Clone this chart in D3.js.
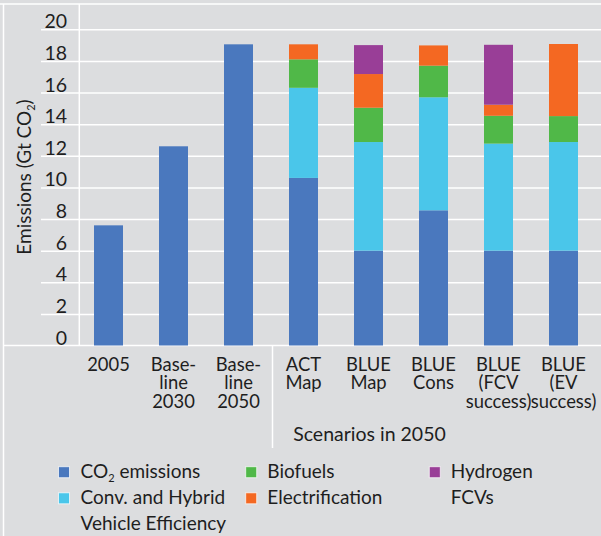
<!DOCTYPE html>
<html><head><meta charset="utf-8">
<script src="https://cdn.jsdelivr.net/npm/d3@7"></script>
<style>
html,body{margin:0;padding:0;background:#dcdddf;}
svg{display:block;}
text{font-family:Lato,"Liberation Sans",Arial,sans-serif;fill:#1e1e1e;}
</style></head>
<body><svg id="c" width="601" height="536"></svg>
<script>
// ---- data ----
const categories = ["2005","Baseline 2030","Baseline 2050","ACT Map","BLUE Map","BLUE Cons","BLUE (FCV success)","BLUE (EV success)"];
const categoryLines = [["2005"],["Base-","line","2030"],["Base-","line","2050"],["ACT","Map"],["BLUE","Map"],["BLUE","Cons"],["BLUE","(FCV","success)"],["BLUE","(EV","success)"]];
const co2Emissions   = [7.6, 12.6, 19.05, 10.6, 6.0, 8.55, 6.0, 6.0];
const convHybrid     = [0, 0, 0, 5.7, 6.87, 7.15, 6.77, 6.87];
const biofuels       = [0, 0, 0, 1.8, 2.17, 2.0, 1.76, 1.64];
const electrification= [0, 0, 0, 0.95, 2.13, 1.28, 0.7, 4.56];
const hydrogenFCVs   = [0, 0, 0, 0, 1.83, 0, 3.79, 0];
const yTicks = [0,2,4,6,8,10,12,14,16,18,20];
const seriesKeys = ["co2","conv","bio","elec","h2"];
const seriesColors = {co2:"#4a78be", conv:"#4ac6ea", bio:"#50b848", elec:"#f46822", h2:"#993e97"};

const rows = categories.map((c,i)=>({cat:c, co2:co2Emissions[i], conv:convHybrid[i], bio:biofuels[i], elec:electrification[i], h2:hydrogenFCVs[i]}));

const svg = d3.select("#c");
const FS = 19;
const white = "#ffffff";

const y = d3.scaleLinear().domain([0,20]).range([345.5, 29.3]);
const x = d3.scaleBand().domain(categories).range([76,596]).paddingInner(0.554).paddingOuter(0.277);

// frame lines
svg.append("line").attr("x1",0).attr("x2",601).attr("y1",4).attr("y2",4).attr("stroke",white).attr("stroke-width",1.5);
svg.append("line").attr("x1",3.5).attr("x2",3.5).attr("y1",4).attr("y2",536).attr("stroke",white).attr("stroke-width",1.5);

// gridlines via axis
const grid = svg.append("g").attr("transform","translate(41,0)")
  .call(d3.axisRight(y).tickValues(yTicks.filter(d=>d>0)).tickSize(560).tickFormat(""));
grid.select(".domain").remove();
grid.selectAll(".tick line").attr("stroke",white).attr("stroke-width",1.5);

// zero line
svg.append("line").attr("x1",3).attr("x2",601).attr("y1",y(0)).attr("y2",y(0)).attr("stroke",white).attr("stroke-width",1.5);
// y-axis vertical
svg.append("line").attr("x1",79.3).attr("x2",79.3).attr("y1",4).attr("y2",y(0)).attr("stroke",white).attr("stroke-width",1.5);
// separator
svg.append("line").attr("x1",272.5).attr("x2",272.5).attr("y1",y(0)).attr("y2",448).attr("stroke",white).attr("stroke-width",1.5);

// y labels
const yax = svg.append("g").attr("transform","translate(67,0)")
  .call(d3.axisLeft(y).tickValues(yTicks).tickSize(0).tickPadding(0));
yax.select(".domain").remove();
yax.selectAll(".tick text").attr("dy","-1.5").attr("x",0)
  .style("font-size","19.5px").style("font-family","Lato,\"Liberation Sans\",Arial,sans-serif").attr("fill","#1e1e1e");

// stacked bars
const stack = d3.stack().keys(seriesKeys)(rows);
svg.append("g").selectAll("g").data(stack).join("g").attr("fill",d=>seriesColors[d.key])
  .selectAll("rect").data(d=>d.filter(s=>s[1]-s[0]>0)).join("rect")
  .attr("x",d=>x(d.data.cat)).attr("width",x.bandwidth())
  .attr("y",d=>y(d[1])).attr("height",d=>y(d[0])-y(d[1]));

// x labels
const xl = svg.append("g");
categories.forEach((c,i)=>{
  const t = xl.append("text").attr("text-anchor","middle").attr("x",x(c)+x.bandwidth()/2).attr("y",370.7).style("font-size","18.4px");
  categoryLines[i].forEach((ln,j)=>t.append("tspan").attr("x",x(c)+x.bandwidth()/2).attr("y",370.7+j*18.5).text(ln));
});
svg.append("text").attr("x",369.5).attr("y",440.7).attr("text-anchor","middle").style("font-size","19.5px").text("Scenarios in 2050");

// y title
const yt = svg.append("text").attr("transform","translate(31,177) rotate(-90)").attr("text-anchor","middle").style("font-size",FS+"px");
yt.append("tspan").text("Emissions (Gt CO");
yt.append("tspan").attr("dy","4").style("font-size","11px").text("2");
yt.append("tspan").attr("dy","-4").text(")");

// legend
const legendItems = [
  {key:"co2", col:0, row:0, lines:[["CO","2"," emissions"]]},
  {key:"conv", col:0, row:1, lines:[["Conv. and Hybrid"],["Vehicle Efficiency"]]},
  {key:"bio", col:1, row:0, lines:[["Biofuels"]]},
  {key:"elec", col:1, row:1, lines:[["Electrification"]]},
  {key:"h2", col:2, row:0, lines:[["Hydrogen"],["FCVs"]]}
];
const colSq = [58.5, 245.7, 429.3];
const colTx = [80.5, 267.3, 450.7];
const rowBase = [477.7, 503.8, 530];
legendItems.forEach(it=>{
  const b = rowBase[it.row];
  svg.append("rect").attr("x",colSq[it.col]).attr("y",b-11).attr("width",11).attr("height",11)
    .attr("fill",seriesColors[it.key]).attr("stroke","rgba(255,255,255,0.7)").attr("stroke-width",1);
  it.lines.forEach((ln,j)=>{
    const t = svg.append("text").attr("x",colTx[it.col]).attr("y",rowBase[it.row+j]).style("font-size",FS+"px");
    if(ln.length===3){
      t.append("tspan").text(ln[0]);
      t.append("tspan").attr("dy","4").style("font-size","11px").text(ln[1]);
      t.append("tspan").attr("dy","-4").text(ln[2]);
    } else t.text(ln[0]);
  });
});
</script></body></html>
